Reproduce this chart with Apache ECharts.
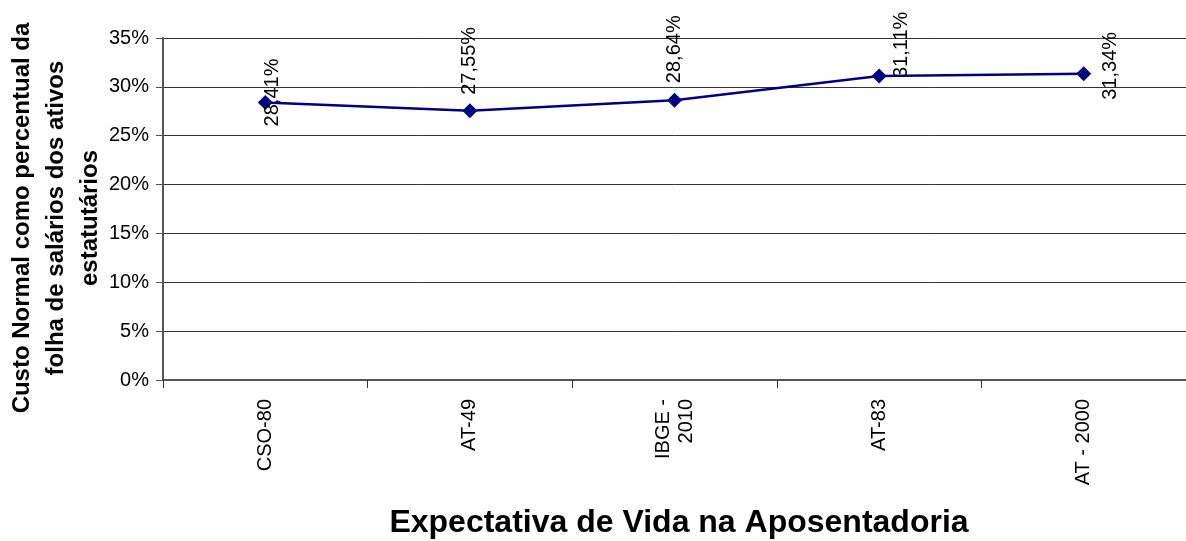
<!DOCTYPE html>
<html>
<head>
<meta charset="utf-8">
<script src="https://cdn.jsdelivr.net/npm/echarts@6/dist/echarts.min.js"></script>
<style>
  html, body { margin: 0; padding: 0; background: #fff; }
  #chart { width: 1186px; height: 541px; }
</style>
</head>
<body>
<div id="chart"></div>
<script>
const categories = ['CSO-80', 'AT-49', 'IBGE -\n2010', 'AT-83', 'AT - 2000']
const custoNormal = [28.41, 27.55, 28.64, 31.11, 31.34]
// label shift on screen (right, down) per point, as placed in the original
const labelOffsets = [[7, 24], [0, -16], [0, -17], [22, 2], [27, 26]]

const font = 'Arial, "Liberation Sans", sans-serif'
const chart = echarts.init(document.getElementById('chart'))

chart.setOption({
  animation: false,
  grid: { left: 163, top: 38, width: 1025, height: 342 },
  xAxis: {
    type: 'category',
    data: categories,
    boundaryGap: true,
    axisLine: { lineStyle: { color: '#555', width: 2 } },
    axisTick: { show: true, interval: 0, length: 8, lineStyle: { color: '#333' } },
    axisLabel: {
      rotate: 90, margin: 19, interval: 0,
      color: '#000', fontFamily: font, fontSize: 20, lineHeight: 23
    }
  },
  yAxis: {
    type: 'value',
    min: 0, max: 35, interval: 5,
    axisLine: { show: true, lineStyle: { color: '#555', width: 2 } },
    axisTick: { show: true, length: 7, lineStyle: { color: '#555' } },
    axisLabel: { formatter: '{value}%', color: '#000', fontFamily: font, fontSize: 20, margin: 14 },
    splitLine: { lineStyle: { color: '#333', width: 1 } }
  },
  series: [{
    type: 'line',
    // label offset is applied in the rotated frame, so swap it round
    data: custoNormal.map((v, i) => ({
      value: v,
      label: { offset: [-labelOffsets[i][1], labelOffsets[i][0]] }
    })),
    symbol: 'diamond',
    symbolSize: 15,
    lineStyle: { color: '#000080', width: 2.5 },
    itemStyle: { color: '#000080' },
    label: {
      show: true,
      position: 'inside',
      rotate: 90,
      align: 'left',
      verticalAlign: 'middle',
      color: '#000',
      fontFamily: font,
      fontSize: 20,
      formatter: p => p.value.toFixed(2).replace('.', ',') + '%'
    }
  }],
  graphic: [
    {
      type: 'text',
      x: 56, y: 218,
      rotation: Math.PI / 2,
      style: {
        text: 'Custo Normal como percentual da\nfolha de salários dos ativos\nestatutários',
        font: 'bold 24px ' + font,
        fill: '#000',
        align: 'center',
        verticalAlign: 'middle',
        lineHeight: 34
      }
    },
    {
      type: 'text',
      x: 679, y: 523,
      style: {
        text: 'Expectativa de Vida na Aposentadoria',
        font: 'bold 32px ' + font,
        fill: '#000',
        align: 'center',
        verticalAlign: 'middle'
      }
    }
  ]
})
</script>
</body>
</html>
